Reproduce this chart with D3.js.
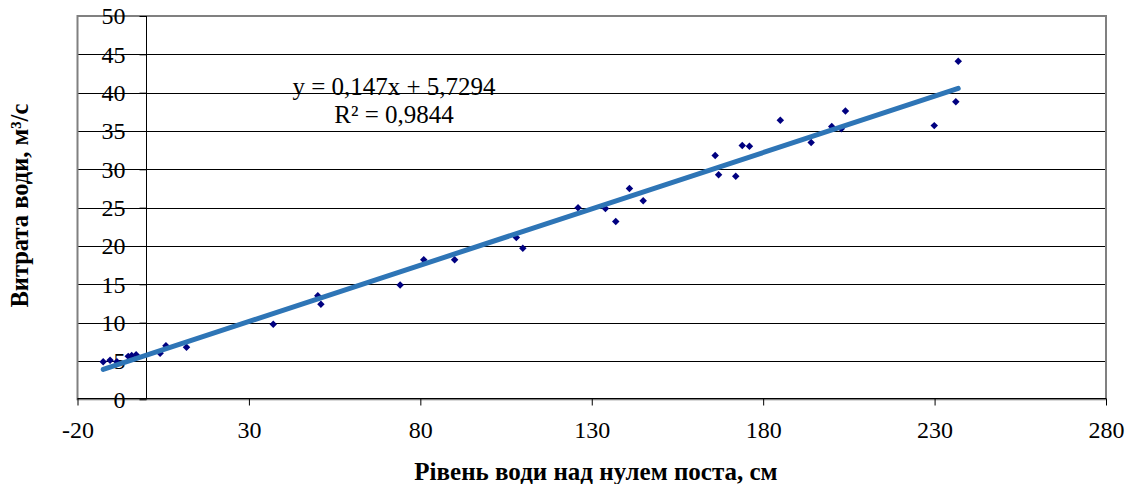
<!DOCTYPE html>
<html>
<head>
<meta charset="utf-8">
<script src="https://cdn.jsdelivr.net/npm/d3@7"></script>
<style>
  html, body { margin: 0; padding: 0; background: #fff; }
  svg { display: block; font-family: "Liberation Serif", "Times New Roman", serif; }
</style>
</head>
<body>
<svg id="chart" width="1132" height="484"></svg>
<script>
// Water level above gauge zero (cm) and measured discharge (m³/s)
const levels = [-12.5, -10.5, -8.5, -5.2, -4.2, -2.9, 4.1, 5.8, 11.8, 37.1,
  50.1, 51.0, 74.1, 81.0, 90.0, 108.0, 109.9, 126.0, 134.0, 137.0, 141.0, 145.0,
  166.0, 167.0, 172.0, 173.9, 176.0, 185.0, 194.0, 200.0, 202.8, 204.0,
  229.9, 236.2, 236.9];
const discharges = [4.9, 5.1, 4.9, 5.6, 5.7, 5.8, 6.0, 7.0, 6.8, 9.8,
  13.5, 12.4, 14.9, 18.2, 18.2, 21.1, 19.7, 25.0, 24.9, 23.2, 27.5, 25.9,
  31.8, 29.3, 29.1, 33.1, 33.0, 36.4, 33.5, 35.6, 35.3, 37.6,
  35.7, 38.8, 44.1];

// Linear trend line coefficients
const slope = 0.147;
const intercept = 5.7294;
const rSquared = "0,9844";

const xTicks = [-20, 30, 80, 130, 180, 230, 280];
const yTicks = [0, 5, 10, 15, 20, 25, 30, 35, 40, 45, 50];

const xTitle = "Рівень води над нулем поста, см";
const yTitle = "Витрата води, м³/с";

const serif = "Liberation Serif, Times New Roman, serif";
const svg = d3.select("#chart");
const plot = { left: 77.5, right: 1106, top: 16, bottom: 399.3 };

const x = d3.scaleLinear().domain([-20, 280]).range([plot.left, plot.right]);
const y = d3.scaleLinear().domain([0, 50]).range([plot.bottom, plot.top]);

// Horizontal gridlines
svg.append("g")
  .selectAll("line")
  .data(yTicks.filter(d => d > 0 && d < 50))
  .join("line")
  .attr("x1", plot.left).attr("x2", plot.right)
  .attr("y1", d => Math.round(y(d)) + 0.5).attr("y2", d => Math.round(y(d)) + 0.5)
  .attr("stroke", "#000").attr("stroke-width", 1);

// Plot area border
svg.append("rect")
  .attr("x", plot.left).attr("y", plot.top)
  .attr("width", plot.right - plot.left).attr("height", plot.bottom - plot.top)
  .attr("fill", "none").attr("stroke", "#808080").attr("stroke-width", 2);

// Vertical axis crossing at x = 0
const yAxis = d3.axisLeft(y)
  .tickValues(yTicks)
  .tickSize(7)
  .tickPadding(14)
  .tickFormat(d3.format("d"));
const yAxisG = svg.append("g")
  .attr("transform", `translate(${Math.round(x(0)) + 0.5},0)`)
  .call(yAxis);
yAxisG.select(".domain").attr("stroke", "#000").attr("d", `M0,${plot.top}V${plot.bottom}`);
yAxisG.selectAll(".tick line").attr("stroke", "#000");
yAxisG.selectAll(".tick text")
  .attr("font-family", serif)
  .attr("font-size", 24).attr("fill", "#000")
  .attr("dy", "0.33em");

// Horizontal axis
const xAxis = d3.axisBottom(x)
  .tickValues(xTicks)
  .tickSize(7)
  .tickPadding(15)
  .tickFormat(d3.format("d"));
const xAxisG = svg.append("g")
  .attr("transform", `translate(0,${Math.round(plot.bottom) - 0.5})`)
  .call(xAxis);
xAxisG.select(".domain").attr("stroke", "#000").attr("d", `M${plot.left},0H${plot.right}`);
xAxisG.selectAll(".tick line").attr("stroke", "#000");
xAxisG.selectAll(".tick text")
  .attr("font-family", serif)
  .attr("font-size", 24).attr("fill", "#000")
  .text(d => String(d));

// Measured points as square diamonds
const marker = d3.symbol().type(d3.symbolSquare).size(28);
svg.append("g")
  .selectAll("path")
  .data(levels.map((lv, i) => [lv, discharges[i]]))
  .join("path")
  .attr("d", marker)
  .attr("transform", d => `translate(${x(d[0])},${y(d[1])}) rotate(45)`)
  .attr("fill", "#000080");

// Trend line over the data range
const xMin = d3.min(levels), xMax = d3.max(levels);
svg.append("line")
  .attr("x1", x(xMin)).attr("y1", y(slope * xMin + intercept))
  .attr("x2", x(xMax)).attr("y2", y(slope * xMax + intercept))
  .attr("stroke", "#2E75B6").attr("stroke-width", 5)
  .attr("stroke-linecap", "round");

// Trend equation and R²
const eq = svg.append("g")
  .attr("font-family", serif)
  .attr("font-size", 25).attr("fill", "#000").attr("text-anchor", "middle");
eq.append("text").attr("x", 394).attr("y", 95)
  .text(`y = ${String(slope).replace(".", ",")}x + ${String(intercept).replace(".", ",")}`);
eq.append("text").attr("x", 394).attr("y", 123)
  .text(`R² = ${rSquared}`);

// Axis titles
svg.append("text")
  .attr("x", 596).attr("y", 480)
  .attr("text-anchor", "middle")
  .attr("font-family", serif)
  .attr("font-size", 25).attr("font-weight", "bold")
  .text(xTitle);

svg.append("text")
  .attr("transform", `translate(28,${(plot.top + plot.bottom) / 2 - 2}) rotate(-90)`)
  .attr("text-anchor", "middle")
  .attr("font-family", serif)
  .attr("font-size", 24.5).attr("font-weight", "bold")
  .text(yTitle);
</script>
</body>
</html>
